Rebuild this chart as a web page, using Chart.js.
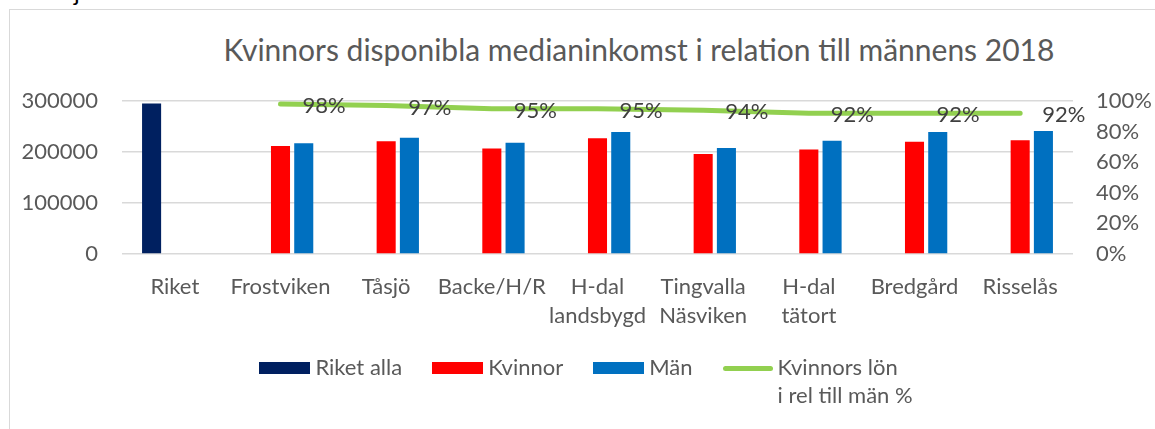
<!DOCTYPE html>
<html>
<head>
<meta charset="utf-8">
<script src="https://cdn.jsdelivr.net/npm/chart.js@4.4.1/dist/chart.umd.min.js"></script>
<style>
  body { margin: 0; background: #fff; font-family: Lato, "Noto Sans", sans-serif; }
  #wrap { position: relative; width: 1155px; height: 429px; overflow: hidden; }
  #frame { position: absolute; left: 9px; top: 9px; width: 1160px; height: 440px; border: 1px solid #d9d9d9; box-sizing: border-box; }
  #stray { position: absolute; left: 74px; top: -22px; font-size: 24px; line-height: 28px; color: #000; }
  #title { position: absolute; left: 0; width: 1278px; top: 31px; text-align: center; font-size: 30px; font-weight: 400; color: #595959; white-space: nowrap; }
  canvas { position: absolute; left: 0; top: 0; }
  #legend { position: absolute; left: 0; width: 1172px; top: 353px; display: flex; justify-content: center; gap: 30px; font-size: 22px; color: #595959; }
  .item { display: flex; align-items: flex-start; gap: 5px; line-height: 28px; }
  .sw { width: 51px; height: 12px; margin-top: 9px; }
  .ln { width: 50px; height: 5px; border-radius: 3px; margin-top: 13px; }
</style>
</head>
<body>
<div id="wrap">
  <div id="frame"></div>
  <div id="stray">j</div>
  <div id="title">Kvinnors disponibla medianinkomst i relation till männens 2018</div>
  <canvas id="chart" width="1155" height="429"></canvas>
  <div id="legend"></div>
</div>
<script>
const categories = ['Riket', 'Frostviken', 'Tåsjö', 'Backe/H/R', ['H-dal', 'landsbygd'], ['Tingvalla', 'Näsviken'], ['H-dal', 'tätort'], 'Bredgård', 'Risselås'];
const riketAlla = [295000, null, null, null, null, null, null, null, null];
const kvinnor = [null, 212000, 221000, 207000, 227000, 196000, 205000, 220000, 223000];
const man = [null, 217000, 228000, 218000, 239000, 208000, 222000, 239000, 241000];
const kvinnorsLon = [null, 0.98, 0.97, 0.95, 0.95, 0.94, 0.92, 0.92, 0.92];
const leftTicks = [0, 100000, 200000, 300000];
const rightTicks = [0, 0.2, 0.4, 0.6, 0.8, 1];

const tickFont = { family: 'Lato, "Noto Sans", sans-serif', size: 22 };

const lineLabels = {
  id: 'lineLabels',
  afterDatasetsDraw(chart) {
    const ctx = chart.ctx;
    const meta = chart.getDatasetMeta(3);
    ctx.save();
    ctx.font = '22px Lato, "Noto Sans", sans-serif';
    ctx.fillStyle = '#404040';
    ctx.textAlign = 'left';
    ctx.textBaseline = 'middle';
    meta.data.forEach((pt, i) => {
      const v = kvinnorsLon[i];
      if (v == null) return;
      ctx.fillText(Math.round(v * 100) + '%', pt.x + 22, pt.y + 2);
    });
    ctx.restore();
  }
};

const chart = new Chart(document.getElementById('chart'), {
  type: 'bar',
  data: {
    labels: categories,
    datasets: [{
      label: 'Riket alla',
      data: riketAlla,
      backgroundColor: '#002060',
      yAxisID: 'y',
      order: 1
    }, {
      label: 'Kvinnor',
      data: kvinnor,
      backgroundColor: '#ff0000',
      yAxisID: 'y',
      order: 1
    }, {
      label: 'Män',
      data: man,
      backgroundColor: '#0070c0',
      yAxisID: 'y',
      order: 1
    }, {
      type: 'line',
      label: ['Kvinnors lön', 'i rel till män %'],
      data: kvinnorsLon,
      borderColor: '#92d050',
      backgroundColor: '#92d050',
      borderWidth: 5,
      borderCapStyle: 'round',
      pointRadius: 0,
      tension: 0,
      yAxisID: 'y1',
      order: 0
    }]
  },
  options: {
    responsive: false,
    animation: false,
    layout: { padding: { top: 101, bottom: 95, left: 0, right: 0 } },
    datasets: {
      bar: { categoryPercentage: 0.66, barPercentage: 0.82 }
    },
    plugins: {
      legend: { display: false },
      title: { display: false },
      tooltip: { enabled: false }
    },
    scales: {
      x: {
        grid: { display: false },
        border: { display: false },
        ticks: { font: { ...tickFont, lineHeight: 1.32 }, color: '#595959', autoSkip: false, maxRotation: 0, padding: 10 },
        afterFit(s) { s.height = 80; }
      },
      y: {
        position: 'left',
        min: 0,
        max: 300000,
        afterBuildTicks(s) { s.ticks = leftTicks.map(v => ({ value: v })); },
        grid: { color: '#d9d9d9', lineWidth: 1.5, drawTicks: false },
        border: { display: false },
        ticks: { font: tickFont, color: '#595959', padding: 24, callback: v => String(v) },
        afterFit(s) { s.width = 122; }
      },
      y1: {
        position: 'right',
        min: 0,
        max: 1,
        afterBuildTicks(s) { s.ticks = rightTicks.map(v => ({ value: v })); },
        grid: { display: false, drawTicks: false },
        border: { display: false },
        ticks: { font: tickFont, color: '#595959', padding: 23, callback: v => Math.round(v * 100) + '%' },
        afterFit(s) { s.width = 82; }
      }
    }
  },
  plugins: [lineLabels]
});

// legend built from the datasets
const legend = document.getElementById('legend');
chart.data.datasets.forEach(ds => {
  const item = document.createElement('div');
  item.className = 'item';
  const mark = document.createElement('div');
  mark.className = ds.type === 'line' ? 'ln' : 'sw';
  mark.style.background = ds.type === 'line' ? ds.borderColor : ds.backgroundColor;
  const txt = document.createElement('div');
  txt.innerHTML = [].concat(ds.label).join('<br>');
  item.appendChild(mark);
  item.appendChild(txt);
  legend.appendChild(item);
});
</script>
</body>
</html>
